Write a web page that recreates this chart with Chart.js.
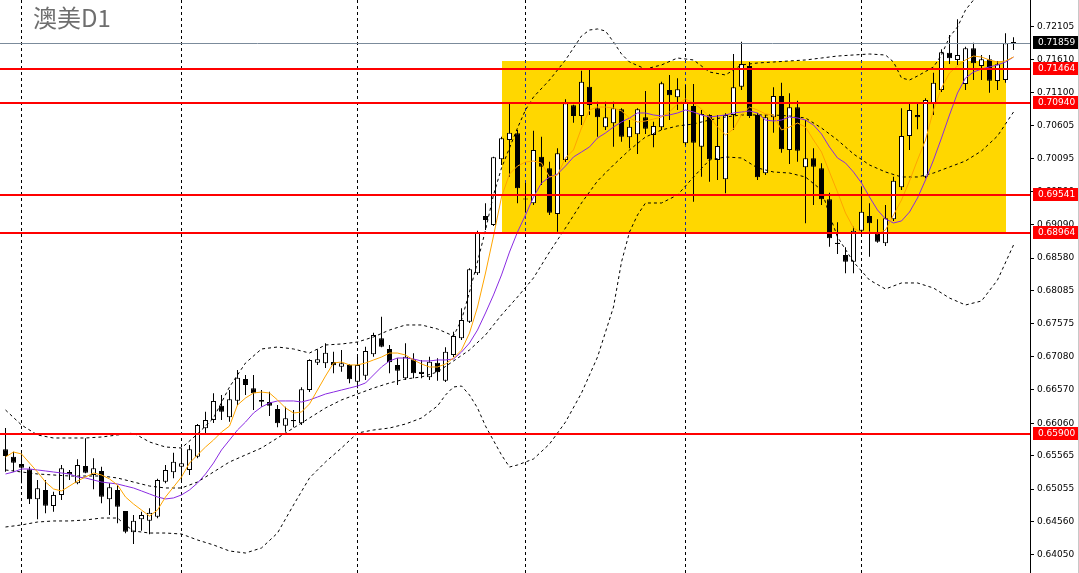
<!DOCTYPE html>
<html><head><meta charset="utf-8">
<script src="https://cdn.jsdelivr.net/npm/chart.js@4.4.1/dist/chart.umd.min.js"></script>
<style>html,body{margin:0;padding:0;background:#fff;overflow:hidden}#wrap{width:1079px;height:573px;position:relative}</style>
</head><body><div id="wrap"><canvas id="c" width="1079" height="573"></canvas></div>
<script>
const title = '澳美D1';
const opens = [0.65662,0.65550,0.65438,0.65357,0.64900,0.65042,0.64797,0.64966,0.65316,0.65144,
0.65407,0.65271,0.65332,0.64900,0.65042,0.64721,0.64396,0.64594,0.64573,0.64634,
0.65168,0.65312,0.65397,0.65347,0.65550,0.65982,0.66109,0.66328,0.66150,0.66404,
0.66735,0.66593,0.66415,0.66384,0.66278,0.66022,0.66109,0.66059,0.66567,0.66984,
0.66975,0.66994,0.66923,0.66949,0.66694,0.66785,0.67111,0.67355,0.67193,0.66949,
0.66745,0.67035,0.66846,0.66760,0.66984,0.66709,0.67101,0.67355,0.67609,0.68348,
0.69221,0.69085,0.70087,0.70381,0.70484,0.69481,0.69416,0.70127,0.69949,0.69252,
0.70076,0.70910,0.70747,0.71194,0.70864,0.70574,0.70636,0.70849,0.70422,0.70468,
0.70727,0.70458,0.70574,0.71144,0.71032,0.70331,0.70899,0.70279,0.70763,0.70076,
0.69781,0.70763,0.71194,0.71510,0.70763,0.69873,0.70727,0.71052,0.70229,0.70879,
0.69964,0.70102,0.69949,0.69476,0.68815,0.68627,0.68524,0.68997,0.69221,0.68947,
0.68806,0.69171,0.69659,0.70442,0.70763,0.69821,0.70941,0.71144,0.71713,0.71602,
0.71235,0.71780,0.71510,0.71612,0.71281,0.71296,0.71866];
const highs = [0.65988,0.65626,0.65602,0.65397,0.65194,0.65194,0.65016,0.65423,0.65347,0.65510,
0.65830,0.65525,0.65397,0.65144,0.65118,0.64721,0.64660,0.64710,0.64762,0.65214,
0.65423,0.65611,0.65677,0.65728,0.66048,0.66236,0.66517,0.66491,0.66567,0.66872,
0.66796,0.66796,0.66567,0.66541,0.66339,0.66313,0.66262,0.66608,0.67035,0.67188,
0.67280,0.67151,0.67177,0.66960,0.67075,0.67228,0.67441,0.67686,0.67254,0.67050,
0.67280,0.67127,0.67025,0.67075,0.67050,0.67218,0.67456,0.67813,0.68423,0.68997,
0.69416,0.70127,0.70432,0.70941,0.70534,0.69725,0.70523,0.70432,0.70050,0.70254,
0.71002,0.70920,0.71438,0.71460,0.70965,0.70965,0.70965,0.70864,0.70686,0.70864,
0.71129,0.70660,0.71270,0.71373,0.71322,0.71220,0.71235,0.70839,0.70775,0.70763,
0.70789,0.71693,0.71881,0.71571,0.70793,0.70763,0.71184,0.71255,0.71094,0.70980,
0.70686,0.70254,0.70026,0.69577,0.69126,0.68744,0.69059,0.69659,0.69416,0.69171,
0.69390,0.69821,0.70864,0.70930,0.70930,0.71017,0.71408,0.71765,0.71983,0.72222,
0.71805,0.71866,0.71678,0.71678,0.71587,0.72009,0.71947];
const lows = [0.65321,0.65321,0.65144,0.64828,0.64594,0.64686,0.64710,0.64889,0.65194,0.65128,
0.65297,0.65052,0.64839,0.64660,0.64534,0.64381,0.64218,0.64420,0.64365,0.64609,
0.65144,0.65220,0.65194,0.65271,0.65525,0.65907,0.66063,0.66109,0.66083,0.66339,
0.66491,0.66262,0.66313,0.66170,0.65997,0.65931,0.65997,0.66033,0.66536,0.66949,
0.66903,0.66822,0.66846,0.66670,0.66593,0.66720,0.67075,0.67218,0.66822,0.66644,
0.66720,0.66745,0.66745,0.66720,0.66709,0.66689,0.67070,0.67330,0.67589,0.68322,
0.69008,0.69069,0.70000,0.69821,0.69416,0.69282,0.69390,0.69695,0.69237,0.68982,
0.70045,0.70645,0.70610,0.70763,0.70432,0.70534,0.70279,0.70355,0.70254,0.70168,
0.70473,0.70269,0.70534,0.70686,0.70839,0.70305,0.69440,0.69821,0.69745,0.69771,
0.69568,0.70534,0.71144,0.70717,0.69771,0.69847,0.70493,0.70188,0.70015,0.70050,
0.69111,0.69390,0.69390,0.68754,0.68642,0.68348,0.68348,0.68977,0.68601,0.68815,
0.68764,0.69146,0.69618,0.70229,0.70544,0.69796,0.70763,0.71113,0.71541,0.71526,
0.71144,0.71296,0.71296,0.71103,0.71144,0.71255,0.71754];
const closes = [0.65560,0.65458,0.65382,0.64900,0.65067,0.64802,0.64966,0.65372,0.65281,0.65423,
0.65306,0.65372,0.64940,0.65082,0.64787,0.64405,0.64573,0.64660,0.64695,0.65194,
0.65347,0.65473,0.65449,0.65662,0.66033,0.66109,0.66400,0.66236,0.66425,0.66755,
0.66644,0.66517,0.66389,0.66328,0.66059,0.66135,0.66089,0.66578,0.67025,0.67035,
0.67136,0.66944,0.66975,0.66730,0.66949,0.67162,0.67406,0.67228,0.66990,0.66861,
0.67075,0.66822,0.66811,0.66999,0.66837,0.67151,0.67390,0.67635,0.68408,0.68967,
0.69161,0.70117,0.70407,0.70493,0.69644,0.69474,0.70229,0.69974,0.69272,0.70179,
0.70941,0.70747,0.71270,0.70915,0.70727,0.70727,0.70864,0.70432,0.70584,0.70849,
0.70553,0.70594,0.71246,0.71063,0.71154,0.70965,0.70340,0.70778,0.70087,0.70289,
0.70763,0.71184,0.71541,0.70747,0.69811,0.70727,0.71052,0.70239,0.70879,0.70218,
0.70102,0.69974,0.69476,0.68881,0.68795,0.68524,0.68997,0.69287,0.69111,0.68830,
0.69186,0.69760,0.70442,0.70839,0.70727,0.70991,0.71255,0.71719,0.71627,0.71678,
0.71780,0.71552,0.71612,0.71285,0.71536,0.71857,0.71859];
const maFast = [0.65545,0.65621,0.65591,0.65453,0.65316,0.65163,0.65057,0.65027,0.65102,0.65179,
0.65240,0.65301,0.65271,0.65210,0.65118,0.64935,0.64828,0.64736,0.64644,0.64736,
0.64935,0.65087,0.65240,0.65453,0.65576,0.65697,0.65804,0.65926,0.66017,0.66339,
0.66445,0.66521,0.66536,0.66521,0.66415,0.66293,0.66216,0.66231,0.66354,0.66567,
0.66780,0.66979,0.66994,0.66949,0.66949,0.66979,0.67025,0.67070,0.67131,0.67131,
0.67101,0.67025,0.66964,0.66918,0.66918,0.66964,0.67055,0.67177,0.67436,0.67833,
0.68352,0.68916,0.69511,0.69862,0.69984,0.70045,0.70061,0.70030,0.69816,0.69847,
0.70107,0.70229,0.70564,0.70839,0.70884,0.70884,0.70869,0.70824,0.70717,0.70655,
0.70671,0.70701,0.70732,0.70808,0.70930,0.71007,0.70945,0.70854,0.70732,0.70579,
0.70458,0.70549,0.70763,0.70884,0.70839,0.70778,0.70763,0.70534,0.70579,0.70640,
0.70579,0.70381,0.70198,0.69892,0.69587,0.69267,0.69039,0.68963,0.68978,0.68947,
0.69008,0.69237,0.69466,0.69756,0.70076,0.70381,0.70839,0.71174,0.71403,0.71510,
0.71602,0.71662,0.71647,0.71602,0.71571,0.71587,0.71647];
const maSlow = [0.65286,0.65316,0.65362,0.65362,0.65347,0.65332,0.65316,0.65301,0.65286,0.65240,
0.65225,0.65194,0.65163,0.65148,0.65133,0.65102,0.65072,0.65027,0.64981,0.64935,
0.64905,0.64920,0.64966,0.65042,0.65148,0.65286,0.65453,0.65652,0.65804,0.65957,
0.66078,0.66216,0.66308,0.66369,0.66400,0.66400,0.66400,0.66384,0.66415,0.66460,
0.66506,0.66536,0.66567,0.66597,0.66628,0.66674,0.66796,0.66918,0.67010,0.67055,
0.67055,0.67040,0.67010,0.67010,0.67025,0.67025,0.67040,0.67146,0.67284,0.67482,
0.67742,0.68017,0.68322,0.68672,0.68977,0.69237,0.69511,0.69725,0.69816,0.69862,
0.69984,0.70122,0.70198,0.70275,0.70412,0.70488,0.70580,0.70655,0.70717,0.70793,
0.70793,0.70763,0.70747,0.70763,0.70793,0.70839,0.70808,0.70763,0.70732,0.70747,
0.70763,0.70793,0.70808,0.70824,0.70793,0.70686,0.70671,0.70686,0.70732,0.70717,
0.70686,0.70610,0.70473,0.70274,0.70107,0.70030,0.69892,0.69725,0.69511,0.69313,
0.69176,0.69115,0.69146,0.69282,0.69496,0.69771,0.70076,0.70412,0.70763,0.71098,
0.71327,0.71418,0.71464,0.71495,0.71526,0.71571,0.71647];
// Bollinger band readings: [bar index, price]
const bbUpper = [[0,0.66262],[2,0.66033],[4,0.65881],[6,0.65835],[8,0.65835],[10,0.65835],[12,0.65850],[14,0.65881],[16,0.65911],[18,0.65774],[20,0.65697],[22,0.65682],[24,0.65896],[26,0.66140],[28,0.66613],[30,0.66979],[32,0.67193],[34,0.67223],[36,0.67193],[38,0.67131],[40,0.67254],[42,0.67269],[44,0.67299],[46,0.67376],[48,0.67482],[50,0.67559],[52,0.67559],[54,0.67498],[56,0.67391],[57,0.67635],[58,0.68062],[59,0.68520],[60,0.69008],[61,0.69542],[62,0.69954],[63,0.70259],[64,0.70564],[65,0.70839],[66,0.71037],[68,0.71296],[70,0.71602],[72,0.71968],[73,0.72059],[74,0.72075],[75,0.72044],[76,0.71876],[77,0.71693],[78,0.71571],[80,0.71464],[82,0.71526],[84,0.71632],[86,0.71602],[88,0.71418],[90,0.71373],[92,0.71526],[94,0.71556],[96,0.71571],[98,0.71587],[100,0.71602],[102,0.71632],[104,0.71662],[106,0.71678],[108,0.71693],[110,0.71678],[111,0.71571],[112,0.71327],[113,0.71296],[114,0.71357],[116,0.71495],[117,0.71678],[118,0.71953],[119,0.72105],[120,0.72364],[121,0.72517],[122,0.72746]];
const bbMiddle = [[0,0.65347],[4,0.65286],[8,0.65255],[12,0.65255],[14,0.65225],[16,0.65163],[18,0.65102],[20,0.65072],[22,0.65072],[24,0.65163],[26,0.65316],[28,0.65469],[30,0.65576],[32,0.65682],[34,0.65835],[36,0.65987],[38,0.66140],[40,0.66293],[42,0.66415],[44,0.66506],[46,0.66597],[48,0.66674],[50,0.66735],[52,0.66766],[54,0.66842],[56,0.67010],[58,0.67177],[60,0.67406],[62,0.67711],[64,0.67986],[66,0.68276],[68,0.68672],[70,0.69039],[72,0.69420],[74,0.69756],[76,0.70000],[78,0.70229],[80,0.70427],[82,0.70534],[84,0.70595],[86,0.70625],[88,0.70686],[90,0.70732],[92,0.70763],[94,0.70763],[96,0.70763],[98,0.70747],[100,0.70717],[102,0.70564],[104,0.70381],[106,0.70168],[108,0.70000],[110,0.69893],[112,0.69817],[114,0.69817],[116,0.69877],[118,0.69969],[120,0.70061],[122,0.70214],[124,0.70442],[126,0.70808]];
const bbLower = [[0,0.64477],[2,0.64508],[4,0.64553],[6,0.64569],[8,0.64569],[10,0.64584],[12,0.64614],[14,0.64614],[15,0.64508],[16,0.64416],[18,0.64385],[20,0.64385],[22,0.64370],[24,0.64279],[26,0.64203],[28,0.64111],[30,0.64080],[32,0.64157],[34,0.64385],[36,0.64813],[38,0.65225],[40,0.65469],[42,0.65682],[44,0.65911],[46,0.65957],[48,0.65987],[50,0.66048],[52,0.66140],[54,0.66323],[55,0.66491],[56,0.66613],[57,0.66628],[58,0.66491],[59,0.66293],[60,0.66017],[62,0.65576],[63,0.65392],[64,0.65423],[66,0.65515],[68,0.65743],[70,0.66078],[72,0.66521],[74,0.67070],[76,0.67833],[77,0.68520],[78,0.68977],[79,0.69237],[80,0.69420],[82,0.69420],[84,0.69542],[86,0.69816],[88,0.70076],[90,0.70122],[92,0.70107],[94,0.69954],[96,0.69893],[98,0.69877],[100,0.69816],[102,0.69618],[103,0.69237],[104,0.68901],[106,0.68520],[108,0.68245],[110,0.68108],[112,0.68200],[114,0.68200],[116,0.68123],[118,0.67970],[120,0.67864],[122,0.67925],[124,0.68245],[126,0.68779]];
const levels = [0.71464, 0.70940, 0.69541, 0.68964, 0.65900];
const currentPrice = 0.71859;
const zoneTop = 0.71586, zoneBottom = 0.68964, zoneFrom = 62, zoneTo = 125;
const gridBars = [2, 22, 44, 65, 85, 107];
const yTicks = [0.72105,0.71610,0.71100,0.70605,0.70095,0.69590,0.69090,0.68580,0.68085,0.67575,0.67080,0.66570,0.66060,0.65565,0.65055,0.64560,0.64050];

const AXIS_FONT = '9px "DejaVu Sans"';
const overlay = {
  id: 'overlay',
  beforeDatasetsDraw(chart) {
    const {ctx, chartArea: a, scales: {x, y}} = chart;
    ctx.save();
    const zl = Math.round(x.getPixelForValue(zoneFrom)), zr = Math.round(x.getPixelForValue(zoneTo));
    const zt = Math.round(y.getPixelForValue(zoneTop)), zb = Math.round(y.getPixelForValue(zoneBottom));
    ctx.fillStyle = '#FFD700';
    ctx.fillRect(zl, zt, zr - zl, zb - zt);
    ctx.lineWidth = 1; ctx.setLineDash([3, 3]);
    const seg = (px, y0, y1, col) => { ctx.strokeStyle = col; ctx.lineDashOffset = y0; ctx.beginPath(); ctx.moveTo(px, y0); ctx.lineTo(px, y1); ctx.stroke(); };
    gridBars.forEach(i => {
      const px = Math.floor(x.getPixelForValue(i)) + 0.5;
      if (px > zl && px < zr) {
        seg(px, a.top, zt, '#000'); seg(px, zt, zb, '#1b2f9e'); seg(px, zb, a.bottom, '#000');
      } else seg(px, a.top, a.bottom, '#000');
    });
    ctx.restore();
  },
  afterDatasetsDraw(chart) {
    const {ctx, chartArea: a, scales: {y}} = chart;
    ctx.save();
    ctx.fillStyle = '#FF0000';
    levels.forEach(p => { const py = Math.round(y.getPixelForValue(p)); ctx.fillRect(a.left, py - 1, a.right - a.left, 2); });
    const cy = Math.round(y.getPixelForValue(currentPrice)) + 0.5;
    ctx.strokeStyle = '#7b8b9b'; ctx.lineWidth = 1;
    ctx.beginPath(); ctx.moveTo(a.left, cy); ctx.lineTo(a.right, cy); ctx.stroke();
    ctx.restore();
  },
  afterDraw(chart) {
    const {ctx, chartArea: a, scales: {y}} = chart;
    ctx.save();
    const box = (p, bg) => {
      const py = Math.round(y.getPixelForValue(p));
      ctx.fillStyle = bg; ctx.fillRect(a.right + 3, py - 7, 45, 13);
      ctx.fillStyle = '#fff'; ctx.font = AXIS_FONT; ctx.textBaseline = 'middle'; ctx.textAlign = 'left';
      ctx.fillText(p.toFixed(5), a.right + 8, py);
    };
    levels.forEach(p => box(p, '#FF0000'));
    box(currentPrice, '#000');
    ctx.fillStyle = '#c8c8c8'; ctx.fillRect(1078, 0, 1, 573);
    ctx.fillStyle = '#6e6e6e'; ctx.font = '24px "Noto Sans CJK SC"'; ctx.textBaseline = 'middle'; ctx.textAlign = 'left';
    ctx.fillText(title, 33, 18);
    ctx.restore();
  }
};

const idx = opens.map((_, i) => i);
const lineDs = (pts, color, dash, order) => ({
  type: 'line', data: pts, borderColor: color, borderWidth: 1, borderDash: dash, pointRadius: 0,
  tension: 0, fill: false, order
});
new Chart(document.getElementById('c'), {
  type: 'bar',
  data: {
    datasets: [
      { label: 'wick', data: idx.map(i => ({x: i, y: [lows[i], highs[i]]})), backgroundColor: '#000', borderWidth: 0,
        barThickness: 1, grouped: false, inflateAmount: 0, order: 11 },
      { label: 'body', data: idx.map(i => ({x: i, y: [opens[i], closes[i]]})),
        backgroundColor: idx.map(i => closes[i] >= opens[i] ? '#fff' : '#000'), borderColor: '#000', borderWidth: 1,
        borderSkipped: false, barThickness: 5, grouped: false, inflateAmount: 0, minBarLength: 1, order: 10 },
      lineDs(bbUpper.map(([i, v]) => ({x: i, y: v})), '#000', [3, 3], 5),
      lineDs(bbMiddle.map(([i, v]) => ({x: i, y: v})), '#000', [3, 3], 5),
      lineDs(bbLower.map(([i, v]) => ({x: i, y: v})), '#000', [3, 3], 5),
      lineDs(maSlow.map((v, i) => ({x: i, y: v})), '#8A2BE2', [], 2),
      lineDs(maFast.map((v, i) => ({x: i, y: v})), '#FFA500', [], 1)
    ]
  },
  options: {
    responsive: false, animation: false, events: [],
    layout: { padding: 0, autoPadding: false },
    plugins: { legend: { display: false }, tooltip: { enabled: false }, title: { display: false } },
    scales: {
      x: { type: 'linear', display: false, min: -0.6875, max: 128.0625, offset: false, bounds: 'data', grid: { display: false, offset: false } },
      y: {
        position: 'right', min: 0.637752, max: 0.725169, bounds: 'data',
        afterBuildTicks: s => { s.ticks = yTicks.map(v => ({value: v})); },
        afterFit: s => { s.width = 49; s.paddingTop = 0; s.paddingBottom = 0; },
        ticks: { callback: v => Number(v).toFixed(5), color: '#000', font: { family: 'DejaVu Sans', size: 9 }, padding: 3, autoSkip: false },
        grid: { drawOnChartArea: false, drawTicks: true, tickLength: 4, color: '#000' },
        border: { display: true, color: '#000', width: 1 }
      }
    }
  },
  plugins: [overlay]
});
</script></body></html>
